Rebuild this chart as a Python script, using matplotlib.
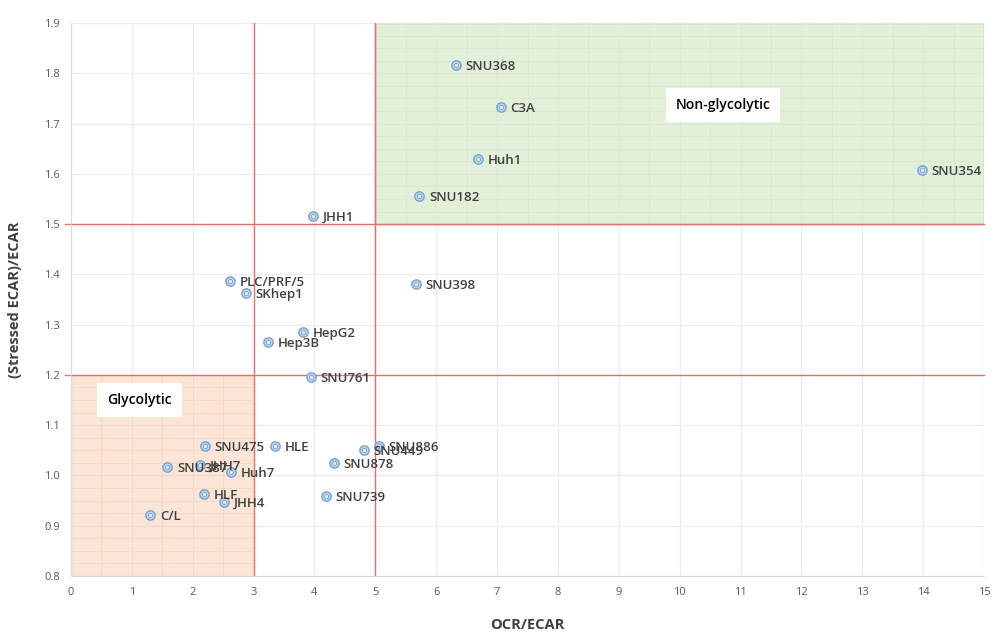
import matplotlib
matplotlib.use("Agg")
import matplotlib.pyplot as plt
from matplotlib.patches import Rectangle

names = ["SNU368", "C3A", "Huh1", "SNU182", "SNU354", "JHH1", "PLC/PRF/5", "SKhep1",
         "SNU398", "HepG2", "Hep3B", "SNU761", "SNU475", "HLE", "SNU449", "SNU886",
         "SNU878", "SNU387", "JHH7", "Huh7", "HLF", "JHH4", "SNU739", "C/L"]
ocr_ecar = [6.32, 7.06, 6.69, 5.72, 13.98, 3.98, 2.61, 2.87,
            5.67, 3.81, 3.24, 3.94, 2.20, 3.35, 4.81, 5.06,
            4.32, 1.58, 2.12, 2.63, 2.18, 2.51, 4.19, 1.30]
stressed = [1.816, 1.733, 1.629, 1.556, 1.608, 1.516, 1.387, 1.363,
            1.381, 1.285, 1.265, 1.196, 1.059, 1.059, 1.051, 1.059,
            1.025, 1.017, 1.021, 1.007, 0.963, 0.947, 0.959, 0.921]

x_ticks = list(range(0, 16))
y_ticks = [0.8, 0.9, 1.0, 1.1, 1.2, 1.3, 1.4, 1.5, 1.6, 1.7, 1.8, 1.9]
x_thresholds = [3, 5]
y_thresholds = [1.2, 1.5]

plt.rcParams['font.family'] = ['Open Sans', 'DejaVu Sans']

fig = plt.figure(figsize=(10.02, 6.37), dpi=100)
ax = fig.add_axes([71/1002, 61/637, 913/1002, 553/637])
ax.set_xlim(0, 15)
ax.set_ylim(0.8, 1.9)
ax.set_xticks(x_ticks)
ax.set_yticks(y_ticks)
ax.set_yticklabels([f"{v:.1f}" for v in y_ticks])
ax.tick_params(length=0, labelsize=8, colors="#595959", pad=8)
ax.grid(True, color="#ececec", lw=0.9)
ax.set_axisbelow(True)
for s in ax.spines.values():
    s.set_visible(False)
ax.spines['left'].set_visible(True)
ax.spines['left'].set_color("#d9d9d9")
ax.spines['bottom'].set_visible(True)
ax.spines['bottom'].set_color("#d9d9d9")

# shaded regions
ax.add_patch(Rectangle((0, 0.8), 3, 0.4, facecolor="#fbe5d6", edgecolor="#f4b183",
                       lw=0.8, zorder=0.5))
ax.add_patch(Rectangle((5, 1.5), 10, 0.4, facecolor="#e2f0d9", edgecolor="#a6a6a6",
                       lw=1.0, zorder=0.5))
# fine grid within regions
for xv in [i * 0.5 for i in range(0, 7)]:
    ax.plot([xv, xv], [0.8, 1.2], color="#f6d3bd", lw=0.5, zorder=0.6)
for yv in [0.8 + i * 0.025 for i in range(17)]:
    ax.plot([0, 3], [yv, yv], color="#f6d3bd", lw=0.5, zorder=0.6)
for xv in [5 + i * 0.5 for i in range(21)]:
    ax.plot([xv, xv], [1.5, 1.9], color="#d3e8c6", lw=0.5, zorder=0.6)
for yv in [1.5 + i * 0.025 for i in range(17)]:
    ax.plot([5, 15], [yv, yv], color="#d3e8c6", lw=0.5, zorder=0.6)

# threshold lines
for xv in x_thresholds:
    ax.axvline(xv, color="#e8706a", lw=1.0, zorder=1)
for yv in y_thresholds:
    ax.plot([-0.1, 15], [yv, yv], color="#e8706a", lw=1.0, zorder=1, clip_on=False)

ax.scatter(ocr_ecar, stressed, s=45, facecolor="#bdd7ee", edgecolor="#7ba1cf",
           lw=1.0, zorder=3)
ax.scatter(ocr_ecar, stressed, s=10, facecolor="#ddebf7", edgecolor="#7ba1cf",
           lw=0.6, zorder=4)
for n, xv, yv in zip(names, ocr_ecar, stressed):
    ax.annotate(n, (xv, yv), xytext=(7, -1), textcoords="offset points",
                ha="left", va="center", fontsize=9.5, fontweight="semibold",
                color="#404040", zorder=5)

ax.text(10.71, 1.737, "Non-glycolytic", ha="center", va="center", fontsize=10,
        fontweight="semibold", color="black",
        bbox=dict(facecolor="white", edgecolor="none", boxstyle="square,pad=0.7"),
        zorder=5)
ax.text(1.13, 1.15, "Glycolytic", ha="center", va="center", fontsize=10,
        fontweight="semibold", color="black",
        bbox=dict(facecolor="white", edgecolor="none", boxstyle="square,pad=0.75"),
        zorder=5)

ax.set_xlabel("OCR/ECAR", fontsize=10.5, fontweight="bold", color="#404040", labelpad=14)
ax.set_ylabel("(Stressed ECAR)/ECAR", fontsize=10.5, fontweight="bold", color="#404040",
              labelpad=16)

fig.savefig("out.png", dpi=100)
